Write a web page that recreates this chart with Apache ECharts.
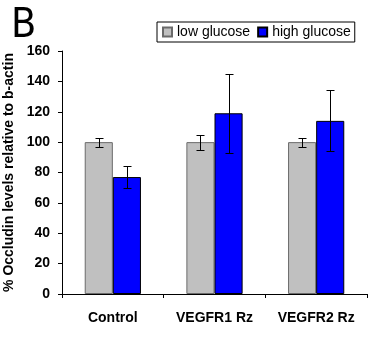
<!DOCTYPE html>
<html>
<head>
<meta charset="utf-8">
<script src="https://cdn.jsdelivr.net/npm/echarts@6/dist/echarts.min.js"></script>
<style>
html,body{margin:0;padding:0;background:#fff;}
#chart{width:373px;height:337px;}
</style>
</head>
<body>
<div id="chart"></div>
<script>
// Occludin levels (% of b-actin) for each treatment group
var categories = ['Control', 'VEGFR1 Rz', 'VEGFR2 Rz'];
var lowGlucose = [100, 100, 100];
var lowGlucoseErr = [3, 5, 3];
var highGlucose = [77, 119, 114];
var highGlucoseErr = [7, 26, 20];
var yTicks = [0, 20, 40, 60, 80, 100, 120, 140, 160];

var GAP = 0.447; // fraction of each category left empty

var chart = echarts.init(document.getElementById('chart'));

function errorSeries(values, errs, side) {
  return {
    type: 'custom',
    silent: true,
    z: 10,
    data: values.map(function (v, i) { return [i, v - errs[i], v + errs[i]]; }),
    renderItem: function (params, api) {
      var band = api.size([1, 0])[0];
      var barW = band * (1 - GAP) / 2;
      var c = Math.round(api.coord([api.value(0), 0])[0] + side * barW / 2) + 0.5;
      var lo = Math.round(api.coord([api.value(0), api.value(1)])[1]) + 0.5;
      var hi = Math.round(api.coord([api.value(0), api.value(2)])[1]) + 0.5;
      var cap = 4;
      var style = { stroke: '#000', lineWidth: 1 };
      return {
        type: 'group',
        children: [
          { type: 'line', shape: { x1: c, y1: lo, x2: c, y2: hi }, style: style },
          { type: 'line', shape: { x1: c - cap, y1: hi, x2: c + cap, y2: hi }, style: style },
          { type: 'line', shape: { x1: c - cap, y1: lo, x2: c + cap, y2: lo }, style: style }
        ]
      };
    }
  };
}

chart.setOption({
  animation: false,
  textStyle: { fontFamily: 'Liberation Sans, Arial, sans-serif' },
  title: {
    text: 'B',
    left: 6,
    top: 1,
    textStyle: { fontSize: 41, fontWeight: 'normal', color: '#000', fontFamily: 'DejaVu Sans Condensed, DejaVu Sans, sans-serif' }
  },
  legend: {
    left: 157,
    top: 22,
    data: ['low glucose', 'high glucose'],
    icon: 'rect',
    itemWidth: 9,
    itemHeight: 9,
    itemGap: 7,
    padding: [3, 4, 3, 5],
    borderColor: '#000',
    borderWidth: 1,
    textStyle: { fontSize: 14, color: '#000' }
  },
  grid: { left: 62, right: 6, top: 51, bottom: 43, outerBoundsMode: 'none', containLabel: false },
  xAxis: {
    type: 'category',
    data: categories,
    axisLine: { lineStyle: { color: '#000', width: 1 } },
    axisTick: { show: true, length: 4, lineStyle: { color: '#000' } },
    axisLabel: { color: '#000', fontWeight: 'bold', fontSize: 14, margin: 17, interval: 0 }
  },
  yAxis: {
    type: 'value',
    min: yTicks[0],
    max: yTicks[yTicks.length - 1],
    interval: 20,
    name: '% Occludin levels relative to b-actin',
    nameLocation: 'middle',
    nameGap: 43,
    nameTextStyle: { color: '#000', fontWeight: 'bold', fontSize: 14 },
    axisLine: { show: true, lineStyle: { color: '#000', width: 1 } },
    axisTick: { show: true, length: 4, lineStyle: { color: '#000' } },
    axisLabel: { color: '#000', fontWeight: 'bold', fontSize: 14, margin: 12 },
    splitLine: { show: false }
  },
  series: [
    {
      name: 'low glucose',
      type: 'bar',
      data: lowGlucose,
      barGap: '0%',
      barCategoryGap: (GAP * 100) + '%',
      itemStyle: { color: '#c0c0c0', borderColor: '#6a6a6a', borderWidth: 1 }
    },
    {
      name: 'high glucose',
      type: 'bar',
      data: highGlucose,
      barGap: '0%',
      barCategoryGap: (GAP * 100) + '%',
      itemStyle: { color: '#0000ff', borderColor: '#000', borderWidth: 1 }
    },
    errorSeries(lowGlucose, lowGlucoseErr, -1),
    errorSeries(highGlucose, highGlucoseErr, 1)
  ]
});
</script>
</body>
</html>
